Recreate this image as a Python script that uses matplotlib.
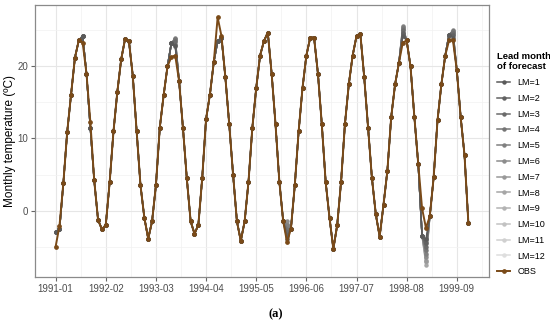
import matplotlib
matplotlib.use("Agg")
import matplotlib.pyplot as plt
import numpy as np
from matplotlib.lines import Line2D

plt.rcParams["font.family"] = ["Liberation Sans", "DejaVu Sans"]

# ---------------- data ----------------
tick_labels = ["1991-01", "1992-02", "1993-03", "1994-04", "1995-05",
               "1996-06", "1997-07", "1998-08", "1999-09"]
tick_positions = [0, 13, 26, 39, 52, 65, 78, 91, 104]   # month index from 1991-01

obs_1991 = [-5.0, -2.1, 3.8, 10.9, 16.1, 21.2, 23.6, 23.3, 19.0, 12.3, 4.2, -1.3]
obs_1992 = [-2.6, -2.0, 3.9, 11.0, 16.5, 21.0, 23.8, 23.5, 18.7, 11.0, 3.5, -1.0]
obs_1993 = [-3.9, -1.5, 3.5, 11.5, 16.0, 20.0, 21.3, 21.5, 18.0, 11.5, 4.5, -1.5]
obs_1994 = [-3.2, -2.0, 4.5, 12.7, 16.1, 20.6, 26.8, 24.2, 18.5, 12.0, 5.0, -1.5]
obs_1995 = [-4.2, -1.5, 4.0, 11.5, 17.0, 21.5, 23.5, 24.7, 19.0, 12.0, 4.0, -1.5]
obs_1996 = [-4.4, -2.5, 3.5, 11.0, 17.0, 21.5, 24.0, 24.0, 19.0, 12.0, 4.0, -1.0]
obs_1997 = [-5.3, -2.0, 4.0, 12.0, 17.5, 21.5, 24.2, 24.5, 18.5, 11.5, 4.5, -0.5]
obs_1998 = [-3.6, 0.8, 5.5, 13.0, 17.5, 20.5, 23.3, 23.6, 20.0, 13.0, 6.5, 0.3]
obs_1999 = [-2.4, -0.8, 4.6, 12.5, 17.5, 21.5, 23.6, 23.6, 19.5, 13.0, 7.7, -1.7]

# forecast values that differ from OBS (month index -> value), common to all lead months
fc_common_changes = {0: -3.0, 1: -2.6, 7: 24.2, 9: 11.5, 30: 23.2, 42: 23.5, 43: 24.0,
                     90: 25.0, 95: -3.5, 102: 24.4}
# lead-month specific values at a few months with visible spread (LM=1..12)
fc_spread_idx = [31, 60, 90, 96, 103]
fc_spread_vals = {
    31:  [22.8, 23.0, 23.5, 23.8, 24.0, 23.8, 23.5, 23.3, 23.2, 23.0, 22.9, 22.7],
    60:  [-4.0, -3.5, -3.0, -2.5, -2.0, -1.5, -1.8, -2.2, -2.6, -3.0, -3.4, -3.8],
    90:  [24.2, 24.6, 25.0, 25.3, 25.6, 25.5, 25.2, 25.0, 24.8, 24.7, 24.5, 24.3],
    96:  [-4.0, -4.5, -5.0, -5.5, -6.0, -6.5, -7.0, -7.5, -7.2, -6.8, -6.2, -5.8],
    103: [24.0, 24.3, 24.6, 24.9, 25.0, 24.8, 24.6, 24.4, 24.3, 24.2, 24.1, 24.0],
}
lead_months = [f"LM={i}" for i in range(1, 13)]
lm_colors = ["#5a5a5a", "#626262", "#6b6b6b", "#757575", "#808080", "#8c8c8c",
             "#999999", "#a6a6a6", "#b3b3b3", "#c2c2c2", "#d0d0d0", "#dedede"]
obs_color = "#7a4a18"

# --------------- build series ---------------
obs = np.array(obs_1991 + obs_1992 + obs_1993 + obs_1994 + obs_1995 +
               obs_1996 + obs_1997 + obs_1998 + obs_1999)
x = np.arange(len(obs))
fc_base = obs.copy()
for k, v in fc_common_changes.items():
    fc_base[k] = v
forecasts = []
for j in range(12):
    f = fc_base.copy()
    for k in fc_spread_idx:
        f[k] = fc_spread_vals[k][j]
    forecasts.append(f)

# --------------- plot ---------------
W, H = 550, 322
fig = plt.figure(figsize=(W / 100, H / 100), dpi=100)
L, R, T, B = 35, 489, 5, 277
ax = fig.add_axes([L / W, 1 - B / H, (R - L) / W, (B - T) / H])

ax.set_facecolor("white")
allv = np.concatenate([obs] + forecasts)
lo, hi = allv.min(), allv.max()
pad = 0.05 * (hi - lo)
ax.set_ylim(lo - pad, hi + pad)
xpad = 0.05 * (x[-1] - x[0])
ax.set_xlim(x[0] - xpad, x[-1] + xpad)

ax.set_yticks([0, 10, 20])
ax.set_yticks([-5, 5, 15, 25], minor=True)
ax.set_xticks(tick_positions)
ax.set_xticklabels(tick_labels)
ax.set_xticks([p + 6.5 for p in tick_positions], minor=True)
ax.grid(True, which="major", color="#e6e6e6", lw=0.8)
ax.grid(True, which="minor", color="#f2f2f2", lw=0.5)
ax.set_axisbelow(True)
ax.tick_params(which="major", length=3, color="#666666", labelsize=7,
               labelcolor="#4d4d4d", pad=2)
ax.tick_params(which="minor", length=0)
for s in ax.spines.values():
    s.set_color("#8a8a8a")
    s.set_linewidth(0.9)

for j in range(11, -1, -1):
    ax.plot(x, forecasts[j], color=lm_colors[j], lw=1.1, marker="o", ms=2.2,
            zorder=2 + (12 - j) * 0.01)
ax.plot(x, obs, color=obs_color, lw=1.4, marker="o", ms=2.4, zorder=3)

ax.set_ylabel("Monthly temperature (ºC)", fontsize=8.5, color="black")
ax.yaxis.set_label_coords((16 - L) / (R - L), 0.5)

handles = [Line2D([], [], color=c, lw=1.1, marker="o", ms=2.2) for c in lm_colors]
handles.append(Line2D([], [], color=obs_color, lw=1.4, marker="o", ms=2.4))
leg = fig.legend(handles, lead_months + ["OBS"], loc="upper left",
                 bbox_to_anchor=(497 / W, 1 - 52 / H), frameon=False,
                 fontsize=6.5, title="Lead month\nof forecast",
                 title_fontproperties={"weight": "bold", "size": 6.8},
                 handlelength=1.45, handletextpad=0.8, labelspacing=0.75,
                 borderaxespad=0, borderpad=0)
leg._legend_box.align = "left"

fig.text(276 / W, 1 - 314 / H, "(a)", ha="center", va="center",
         fontsize=9, fontweight="bold", family="Liberation Serif")

fig.savefig("out.png", dpi=100)
